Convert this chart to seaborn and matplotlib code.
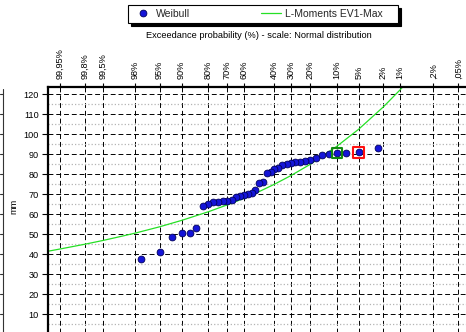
from statistics import NormalDist

import numpy as np
import pandas as pd
import matplotlib
matplotlib.use("Agg")
import matplotlib.pyplot as plt
from matplotlib.lines import Line2D
from matplotlib.ticker import FixedLocator, MultipleLocator, NullLocator
import seaborn as sns

# ---------------------------------------------------------------- data
# Weibull plotting positions: exceedance probability (%) and observed maxima (mm)
weibull_exceed = [2.5, 5.0, 7.5, 10.0, 12.5, 15.0, 17.5, 20.0, 22.5, 25.0,
                  27.5, 30.0, 32.5, 35.0, 37.5, 40.0, 42.5, 45.0, 47.5, 50.0,
                  52.5, 55.0, 57.5, 60.0, 62.5, 65.0, 67.5, 70.0, 72.5, 75.0,
                  77.5, 80.0, 82.5, 85.0, 87.5, 90.0, 92.5, 95.0, 97.5]
weibull_mm = [93.2, 90.8, 90.7, 90.3, 90.2, 89.3, 88.0, 87.0, 86.3, 86.0,
              85.8, 85.7, 85.1, 84.5, 83.0, 82.6, 81.0, 80.4, 75.8, 75.3,
              72.0, 70.7, 69.8, 69.3, 69.2, 68.5, 67.0, 66.4, 66.3, 66.2,
              65.8, 65.0, 64.0, 53.2, 50.6, 50.5, 48.3, 41.2, 37.5]

# L-Moments EV1-Max (Gumbel) fitted quantiles
ev1_exceed = [99.98, 99.95, 99.8, 99.5, 99.0, 98.0, 95.0, 90.0, 80.0, 70.0,
              60.0, 50.0, 40.0, 30.0, 20.0, 10.0, 5.0, 2.0, 1.0, 0.8]
ev1_mm = [41.1, 42.5, 44.9, 46.8, 48.5, 50.4, 53.6, 56.8, 61.1, 64.6,
          67.8, 71.2, 74.9, 79.2, 84.8, 93.8, 102.4, 113.6, 122.0, 124.7]

# Marked observations
mark_green_exceed = [10.0]
mark_green_mm = [90.3]
mark_red_exceed = [5.0]
mark_red_mm = [90.8]

# Axis ticks
prob_ticks = [99.95, 99.8, 99.5, 98, 95, 90, 80, 70, 60, 40, 30, 20, 10,
              5, 2, 1, 0.2, 0.05]
prob_labels = ["99,95%", "99,8%", "99,5%", "98%", "95%", "90%", "80%", "70%",
               "60%", "40%", "30%", "20%", "10%", "5%", "2%", "1%", ",2%",
               ",05%"]
mm_ticks = [0, 10, 20, 30, 40, 50, 60, 70, 80, 90, 100, 110, 120]

df_weibull = pd.DataFrame({"exceed": weibull_exceed, "mm": weibull_mm})
df_ev1 = pd.DataFrame({"exceed": ev1_exceed, "mm": ev1_mm})

# ---------------------------------------------------------------- normal probability scale
# forward: exceedance % -> standard normal quantile of the exceedance
# (increasing), the axis is then inverted so high percentages sit on the left
_nd = NormalDist()
_inv = np.vectorize(lambda q: _nd.inv_cdf(q) if 0.0 < q < 1.0 else np.nan,
                    otypes=[float])
_cdf = np.vectorize(_nd.cdf, otypes=[float])


def pct_to_z(pct):
    q = np.clip(np.asarray(pct, dtype=float) / 100.0, 1e-12, 1 - 1e-12)
    return _inv(q)


def z_to_pct(z):
    return 100.0 * _cdf(np.asarray(z, dtype=float))


# ---------------------------------------------------------------- style
sns.set_theme(style="white")
plt.rcParams["font.family"] = ["Liberation Sans", "DejaVu Sans"]

W, H = 466, 332
fig = plt.figure(figsize=(W / 100, H / 100), dpi=100, facecolor="white")

z_span = 3.494
px_per_z = 60.52
y_lo, y_hi = -5.0, 123.5
px_per_mm = 2.0
ax_left_px, ax_top_px = 47.7, 87.0
ax_w_px = 2 * z_span * px_per_z
ax_h_px = (y_hi - y_lo) * px_per_mm
ax = fig.add_axes([ax_left_px / W,
                   1 - (ax_top_px + ax_h_px) / H,
                   ax_w_px / W,
                   ax_h_px / H])
ax.set_facecolor("white")
ax.set_xscale("function", functions=(pct_to_z, z_to_pct))

pt_face = "#1414d8"
pt_edge = "#00005a"
green = "#25e025"

sns.lineplot(data=df_ev1, x="exceed", y="mm", ax=ax, color=green,
             linewidth=0.9, sort=False, estimator=None, legend=False,
             zorder=2)
sns.scatterplot(data=df_weibull, x="exceed", y="mm", ax=ax, color=pt_face,
                edgecolor=pt_edge, linewidth=0.6, s=24, legend=False,
                zorder=3)
sns.scatterplot(x=mark_green_exceed, y=mark_green_mm, ax=ax, marker="s",
                s=52, facecolor="none", edgecolor="#118a11", linewidth=1.5,
                legend=False, zorder=4)
sns.scatterplot(x=mark_red_exceed, y=mark_red_mm, ax=ax, marker="s",
                s=66, facecolor="none", edgecolor="#ff1010", linewidth=1.5,
                legend=False, zorder=4)

# ticks
ax.xaxis.set_major_locator(FixedLocator(prob_ticks))
ax.xaxis.set_minor_locator(NullLocator())
ax.set_xticks(prob_ticks, prob_labels)
ax.xaxis.tick_top()
ax.set_yticks(mm_ticks)
ax.yaxis.set_minor_locator(MultipleLocator(5))

ax.set_xlim(float(z_to_pct(z_span)), float(z_to_pct(-z_span)))
ax.set_ylim(y_lo, y_hi)

ax.tick_params(axis="x", which="major", top=True, bottom=False, labeltop=True,
               labelbottom=False, direction="out", length=3, width=0.8,
               pad=2.5, labelsize=6.6, labelrotation=90, colors="black")
ax.tick_params(axis="y", which="major", left=True, direction="out", length=4,
               width=0.8, pad=2.5, labelsize=6.6, colors="black")
ax.tick_params(axis="y", which="minor", length=0)

# grid
ax.set_axisbelow(True)
ax.grid(which="major", axis="both", color="black",
        linestyle=(0, (5, 3)), linewidth=0.7)
ax.grid(which="minor", axis="y", color="#b4b4b4", linestyle=":",
        linewidth=0.9)

for side in ("right", "bottom"):
    ax.spines[side].set_visible(False)
for side in ("left", "top"):
    ax.spines[side].set_visible(True)
    ax.spines[side].set_color("black")
    ax.spines[side].set_linewidth(1.6)

ax.set_xlabel("")
ax.set_ylabel("mm", fontsize=6.6, color="black")
ax.yaxis.set_label_coords((18.0 - ax_left_px) / ax_w_px,
                          (ax_top_px + ax_h_px - 206.0) / ax_h_px)

# title line above the probability labels
fig.text(259.0 / W, 1 - 36.0 / H,
         "Exceedance probability (%) - scale: Normal distribution",
         ha="center", va="center", fontsize=6.7, color="black")

# legend
handles = [
    Line2D([], [], linestyle="none", marker="o", markersize=4.9,
           markerfacecolor=pt_face, markeredgecolor=pt_edge,
           markeredgewidth=0.6),
    Line2D([], [], color=green, linewidth=0.9),
]
leg = fig.legend(handles, ["Weibull", "L-Moments EV1-Max    "], ncol=2,
                 loc="upper left", bbox_to_anchor=(128.3 / W, 1 - 5.0 / H),
                 bbox_transform=fig.transFigure, borderaxespad=0,
                 fontsize=7.5, frameon=True, fancybox=False,
                 edgecolor="black", facecolor="white", framealpha=1,
                 borderpad=0.38, handlelength=2.0, handletextpad=0.3,
                 columnspacing=6.75,
                 shadow={"ox": 2.2, "oy": -2.2, "color": "black",
                         "alpha": 1.0})
leg.get_frame().set_linewidth(0.8)

# edge of the neighbouring panel on the far left
edge_x = 2.5 / W
fig.add_artist(Line2D([edge_x, edge_x], [1 - 89.0 / H, 0.0],
                      transform=fig.transFigure, color="#333333",
                      linewidth=0.8))
for k in range(13):
    yk = 1 - (94.0 + 20.0 * k) / H
    fig.add_artist(Line2D([0.0, edge_x], [yk, yk], transform=fig.transFigure,
                          color="#333333", linewidth=0.8))

fig.savefig("out.png", dpi=100, facecolor="white")
